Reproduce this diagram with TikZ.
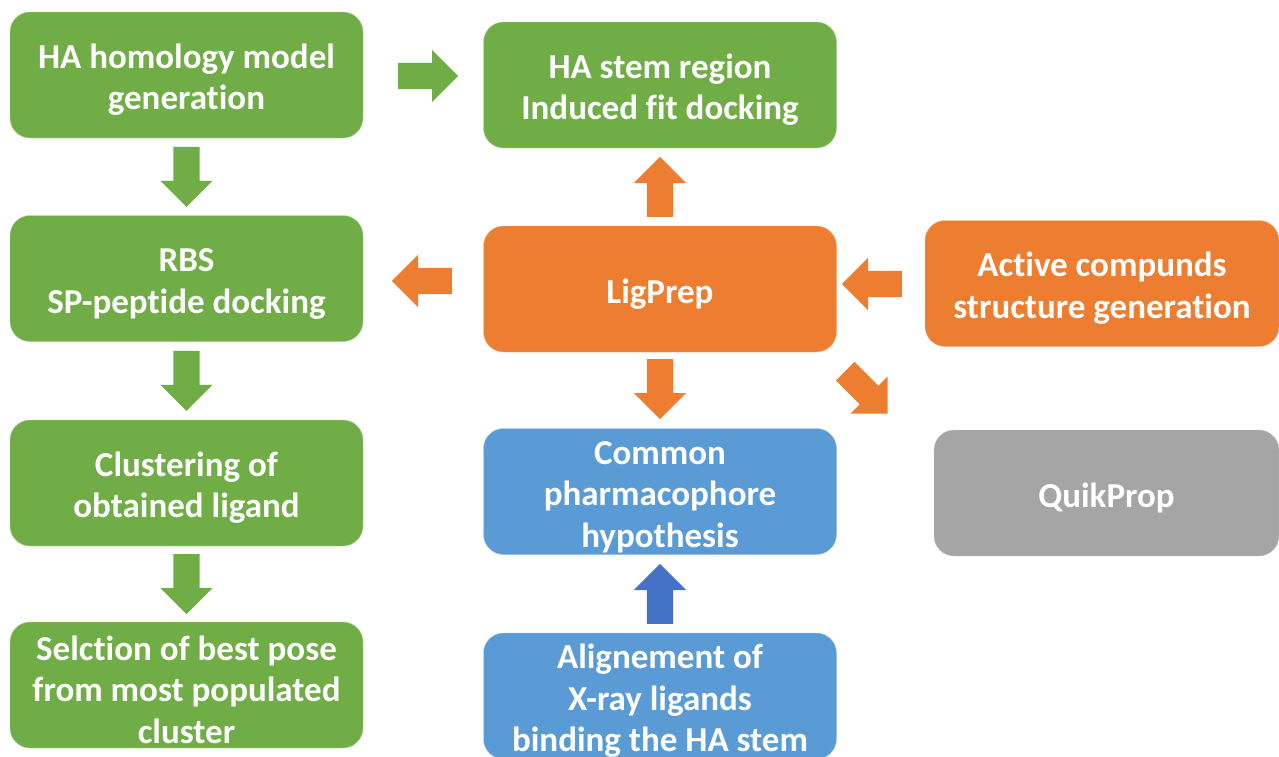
\documentclass[tikz,border=0pt]{standalone}
\usepackage{fontspec}
\setmainfont[Ligatures=NoCommon]{Carlito}
\usetikzlibrary{shapes.arrows,calc}

\definecolor{flowgreen}{HTML}{70AD47}
\definecolor{floworange}{HTML}{ED7D31}
\definecolor{flowblue}{HTML}{5B9BD5}
\definecolor{arrowblue}{HTML}{4472C4}
\definecolor{flowgray}{HTML}{A5A5A5}

\newcommand{\topstrut}{\rule{0pt}{34pt}}

\begin{document}
\begin{tikzpicture}[x=1pt,y=-1pt]
		\tikzstyle{box}=[rectangle,rounded corners=20pt,minimum width=353pt,minimum height=126pt,inner sep=0pt,text=white,align=center,font=\fontsize{35}{41.5}\selectfont\bfseries]
		\tikzstyle{green box}=[box,fill=flowgreen,draw=flowgreen!55!white];
		\tikzstyle{orange box}=[box,fill=floworange,draw=floworange!55!white];
		\tikzstyle{blue box}=[box,fill=flowblue,draw=flowblue!55!white];
		\tikzstyle{gray box}=[box,fill=flowgray,draw=flowgray!55!white];
		\tikzstyle{block}=[single arrow,anchor=tail,inner xsep=0pt,inner ysep=13pt,minimum height=60pt,single arrow head extend=13pt,draw=none]

		\useasboundingbox (0,0) rectangle (1279,756);

			% Draw the docking column
		\node[green box] (G-1) at (186.5,75) {\topstrut HA homology model\\generation};
		\node[green box] (G-2) at (186.5,278.5) {\topstrut RBS\\SP-peptide docking};
		\node[green box] (G-3) at (186.5,483) {\topstrut Clustering of\\obtained ligand};
		\node[green box] (G-4) at (186.5,685) {\topstrut Selction of best pose\\from most populated\\cluster};

			% Draw the middle column
		\node[green box] (stem) at (660,85) {\topstrut HA stem region\\Induced fit docking};
		\node[orange box] (lig) at (660,289) {\topstrut LigPrep};
		\node[blue box] (pharm) at (660,491.5) {\topstrut Common\\pharmacophore\\hypothesis};
		\node[blue box] (align) at (660,696) {\topstrut Alignement of\\X-ray ligands\\binding the HA stem};

			% Draw the right column
		\node[orange box,minimum width=354pt] (act) at (1102,283.5) {\topstrut Active compunds\\structure generation};
		\node[gray box,minimum width=345pt] (quik) at (1106.5,493) {\topstrut QuikProp};

			% Block arrows between the green boxes (placed by their tails)
		\foreach \source/\dest in {1/2,2/3,3/4}
		\node[block,fill=flowgreen,rotate=-90] (A-\source) at ($(G-\source.south)!0.5!(G-\dest.north)+(0,-30)$) {};
		\node[block,fill=flowgreen] (A-0) at (398,76) {};

			% Block arrows out of LigPrep
		\node[block,fill=floworange,rotate=90] (L-1) at (660,217) {};
		\node[block,fill=floworange,rotate=180] (L-2) at (452,281) {};
		\node[block,fill=floworange,rotate=-90] (L-3) at (660,359) {};
		\node[block,fill=floworange,rotate=-45] (L-4) at (845,371) {};
		\node[block,fill=floworange,rotate=180] (L-5) at (902,284) {};

		\node[block,fill=arrowblue,rotate=90] (B-1) at (660,624) {};
		\end{tikzpicture}
\end{document}
